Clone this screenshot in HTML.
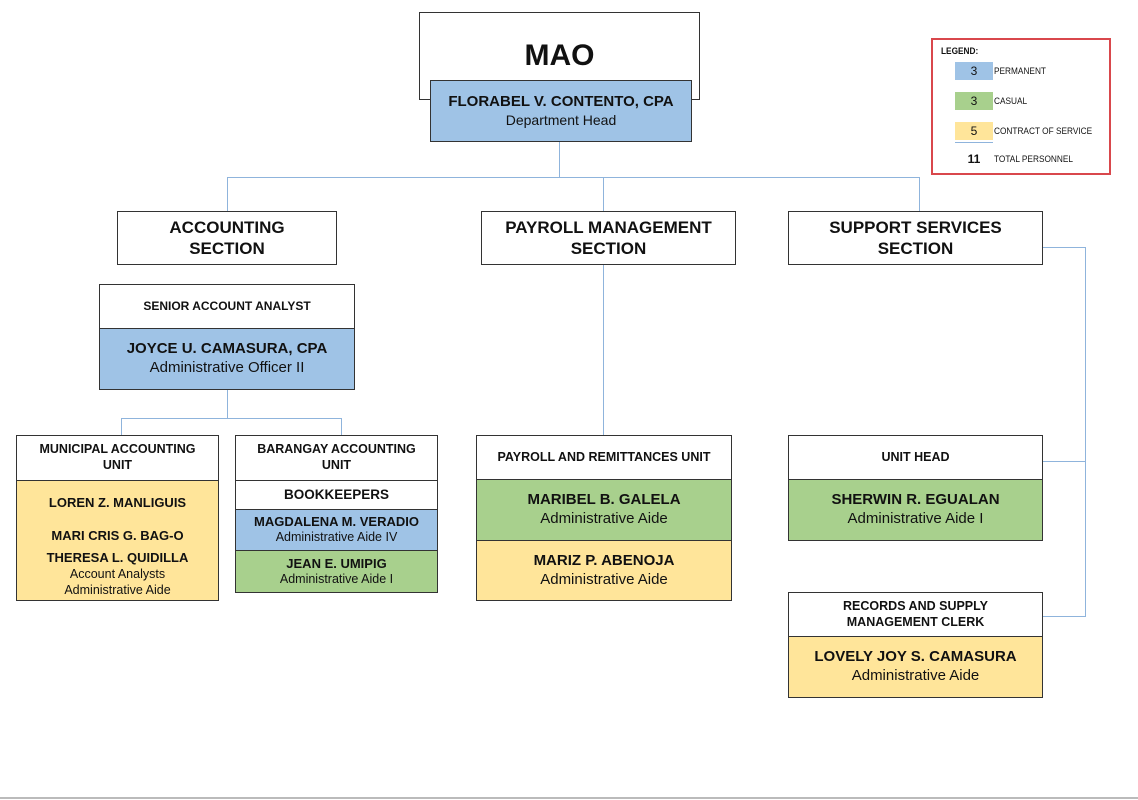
<!DOCTYPE html>
<html><head><style>
body{margin:0;width:1138px;height:800px;background:#fff;position:relative;overflow:hidden;font-family:"Liberation Sans",Arial,sans-serif;color:#111}
.b{position:absolute;box-sizing:border-box;border:1px solid #333;text-align:center;display:flex;flex-direction:column;justify-content:center;align-items:center;line-height:1.25;white-space:nowrap}
.bl{background:#9fc3e6}.gr{background:#a8d08d}.ye{background:#ffe59a}
.l{position:absolute;background:#8fb4dc}
.h{font-weight:bold}
.s{font-size:14px}
.lg{position:absolute;white-space:nowrap;font-size:9px;transform-origin:left center;transform:scaleX(0.92)}
</style></head><body>
<!-- lines -->
<div class="l" style="left:559px;top:141px;width:1px;height:36px"></div>
<div class="l" style="left:227px;top:177px;width:693px;height:1px"></div>
<div class="l" style="left:227px;top:177px;width:1px;height:34px"></div>
<div class="l" style="left:603px;top:177px;width:1px;height:34px"></div>
<div class="l" style="left:919px;top:177px;width:1px;height:34px"></div>
<div class="l" style="left:227px;top:389px;width:1px;height:29px"></div>
<div class="l" style="left:121px;top:418px;width:221px;height:1px"></div>
<div class="l" style="left:121px;top:418px;width:1px;height:17px"></div>
<div class="l" style="left:341px;top:418px;width:1px;height:17px"></div>
<div class="l" style="left:603px;top:264px;width:1px;height:171px"></div>
<div class="l" style="left:1042px;top:247px;width:43px;height:1px"></div>
<div class="l" style="left:1085px;top:247px;width:1px;height:370px"></div>
<div class="l" style="left:1042px;top:461px;width:43px;height:1px"></div>
<div class="l" style="left:1042px;top:616px;width:43px;height:1px"></div>

<div class="b" style="left:419px;top:12px;width:281px;height:88px;justify-content:flex-start;padding-top:24px"><span class="h" style="font-size:30px">MAO</span></div>
<div class="b bl" style="left:430px;top:80px;width:262px;height:62px"><span class="h" style="font-size:15px">FLORABEL V. CONTENTO, CPA</span><span class="s">Department Head</span></div>

<div class="b h" style="left:117px;top:211px;width:220px;height:54px;font-size:17px">ACCOUNTING<br>SECTION</div>
<div class="b h" style="left:481px;top:211px;width:255px;height:54px;font-size:17px">PAYROLL MANAGEMENT<br>SECTION</div>
<div class="b h" style="left:788px;top:211px;width:255px;height:54px;font-size:17px">SUPPORT SERVICES<br>SECTION</div>

<div class="b h" style="left:99px;top:284px;width:256px;height:45px;font-size:12px">SENIOR ACCOUNT ANALYST</div>
<div class="b bl" style="left:99px;top:328px;width:256px;height:62px"><span class="h" style="font-size:15px">JOYCE U. CAMASURA, CPA</span><span style="font-size:15px">Administrative Officer II</span></div>

<div class="b h" style="left:16px;top:435px;width:203px;height:46px;font-size:12.5px">MUNICIPAL ACCOUNTING<br>UNIT</div>
<div class="b ye" style="left:16px;top:480px;width:203px;height:121px;justify-content:flex-start;padding-top:14px"><span class="h" style="font-size:13px">LOREN Z. MANLIGUIS</span><span class="h" style="font-size:13px;margin-top:17px">MARI CRIS G. BAG-O</span><span class="h" style="font-size:13px;margin-top:5px">THERESA L. QUIDILLA</span><span style="font-size:12.5px;line-height:1.3">Account Analysts<br>Administrative Aide</span></div>

<div class="b h" style="left:235px;top:435px;width:203px;height:46px;font-size:12.5px">BARANGAY ACCOUNTING<br>UNIT</div>
<div class="b h" style="left:235px;top:480px;width:203px;height:30px;font-size:13.5px">BOOKKEEPERS</div>
<div class="b bl" style="left:235px;top:509px;width:203px;height:42px"><span class="h" style="font-size:13px">MAGDALENA M. VERADIO</span><span style="font-size:12.5px">Administrative Aide IV</span></div>
<div class="b gr" style="left:235px;top:550px;width:203px;height:43px"><span class="h" style="font-size:13px">JEAN E. UMIPIG</span><span style="font-size:12.5px">Administrative Aide I</span></div>

<div class="b h" style="left:476px;top:435px;width:256px;height:45px;font-size:12.5px">PAYROLL AND REMITTANCES UNIT</div>
<div class="b gr" style="left:476px;top:479px;width:256px;height:62px"><span class="h" style="font-size:15px">MARIBEL B. GALELA</span><span style="font-size:15px">Administrative Aide</span></div>
<div class="b ye" style="left:476px;top:540px;width:256px;height:61px"><span class="h" style="font-size:15px">MARIZ P. ABENOJA</span><span style="font-size:15px">Administrative Aide</span></div>

<div class="b h" style="left:788px;top:435px;width:255px;height:45px;font-size:12.5px">UNIT HEAD</div>
<div class="b gr" style="left:788px;top:479px;width:255px;height:62px"><span class="h" style="font-size:15px">SHERWIN R. EGUALAN</span><span style="font-size:15px">Administrative Aide I</span></div>

<div class="b h" style="left:788px;top:592px;width:255px;height:45px;font-size:12.5px">RECORDS AND SUPPLY<br>MANAGEMENT CLERK</div>
<div class="b ye" style="left:788px;top:636px;width:255px;height:62px"><span class="h" style="font-size:15px">LOVELY JOY S. CAMASURA</span><span style="font-size:15px">Administrative Aide</span></div>

<!-- legend -->
<div style="position:absolute;left:931px;top:38px;width:180px;height:137px;box-sizing:border-box;border:2px solid #d9474c;font-size:10px">
<div class="lg h" style="left:8px;top:6px">LEGEND:</div>
<div class="bl" style="position:absolute;left:22px;top:22px;width:38px;height:18px;text-align:center;line-height:18px;font-size:12px">3</div>
<div class="lg" style="left:61px;top:26px">PERMANENT</div>
<div class="gr" style="position:absolute;left:22px;top:52px;width:38px;height:18px;text-align:center;line-height:18px;font-size:12px">3</div>
<div class="lg" style="left:61px;top:56px">CASUAL</div>
<div class="ye" style="position:absolute;left:22px;top:82px;width:38px;height:18px;text-align:center;line-height:18px;font-size:12px">5</div>
<div class="lg" style="left:61px;top:86px">CONTRACT OF SERVICE</div>
<div style="position:absolute;left:22px;top:102px;width:38px;height:1px;background:#8fb4dc"></div>
<div class="h" style="position:absolute;left:22px;top:112px;width:38px;text-align:center;font-size:12px">11</div>
<div class="lg" style="left:61px;top:114px">TOTAL PERSONNEL</div>
</div>
<div style="position:absolute;left:0;top:797px;width:1138px;height:2px;background:#bbb"></div>
</body></html>
